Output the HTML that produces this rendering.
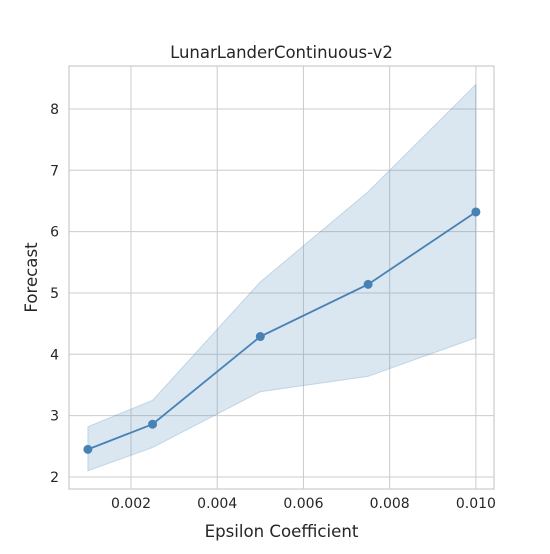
<!DOCTYPE html>
<html><head><meta charset="utf-8"><style>
body{margin:0;background:#fff;font-family:"DejaVu Sans","Liberation Sans",sans-serif}
</style></head><body>
<svg id="chart" width="550" height="550" xmlns="http://www.w3.org/2000/svg" font-family="DejaVu Sans, Liberation Sans, sans-serif"></svg>
<script>
const xValues=[0.001,0.0025,0.005,0.0075,0.01];
const meanValues=[2.45,2.86,4.29,5.14,6.32];
const upperValues=[2.82,3.25,5.18,6.65,8.4];
const lowerValues=[2.1,2.48,3.39,3.64,4.27];
const xTicks=[0.002,0.004,0.006,0.008,0.010];
const xTickLabels=["0.002","0.004","0.006","0.008","0.010"];
const yTicks=[2,3,4,5,6,7,8];
const yTickLabels=["2","3","4","5","6","7","8"];

const L=69,R=494,T=66,B=489;
const xMin=0.000562,xMax=0.01042,yMin=1.804,yMax=8.70;
const sx=v=>L+(v-xMin)/(xMax-xMin)*(R-L);
const sy=v=>B-(v-yMin)/(yMax-yMin)*(B-T);
const svg=document.getElementById('chart');
const NS="http://www.w3.org/2000/svg";
function mk(tag,attrs,name,parent){const e=document.createElementNS(NS,tag);for(const k in attrs)e.setAttribute(k,attrs[k]);


(parent||svg).appendChild(e);return e;}
mk('rect',{x:L,y:T,width:R-L,height:B-T,fill:'#fff'},'plot-area');
xTicks.forEach((t,i)=>{const x=sx(t);
mk('line',{x1:x,x2:x,y1:T,y2:B,stroke:'#cccccc','stroke-width':1},'x-gridline');
const tx=mk('text',{x:x,y:B+19,'text-anchor':'middle','font-size':14,fill:'#262626'},'x-tick-label');tx.textContent=xTickLabels[i];});
yTicks.forEach((t,i)=>{const y=sy(t);
mk('line',{x1:L,x2:R,y1:y,y2:y,stroke:'#cccccc','stroke-width':1},'y-gridline');
const tx=mk('text',{x:L-10,y:y+5,'text-anchor':'end','font-size':14,fill:'#262626'},'y-tick-label');tx.textContent=yTickLabels[i];});
let d='';xValues.forEach((x,i)=>{d+=(i?'L':'M')+sx(x)+','+sy(upperValues[i]);});
for(let i=xValues.length-1;i>=0;i--)d+='L'+sx(xValues[i])+','+sy(lowerValues[i]);
mk('path',{d:d+'Z',fill:'rgba(70,130,180,0.2)',stroke:'rgba(70,130,180,0.25)'},'confidence-band');
let ld='';xValues.forEach((x,i)=>{ld+=(i?'L':'M')+sx(x)+','+sy(meanValues[i]);});
mk('path',{d:ld,fill:'none',stroke:'#4682b4','stroke-width':1.8},'forecast-line');
xValues.forEach((x,i)=>mk('circle',{cx:sx(x),cy:sy(meanValues[i]),r:4.5,fill:'#4682b4'},'forecast-point'));
mk('rect',{x:L,y:T,width:R-L,height:B-T,fill:'none',stroke:'#cccccc','stroke-width':1.25},'plot-border');
const t=mk('text',{x:(L+R)/2,y:58,'text-anchor':'middle','font-size':16.5,fill:'#262626'},'chart-title');t.textContent='LunarLanderContinuous-v2';
const xl=mk('text',{x:(L+R)/2,y:537,'text-anchor':'middle','font-size':16.6,fill:'#262626'},'x-axis-title');xl.textContent='Epsilon Coefficient';
const yl=mk('text',{x:0,y:0,'text-anchor':'middle','font-size':16.6,fill:'#262626',transform:'translate(37,'+((T+B)/2)+') rotate(-90)'},'y-axis-title');yl.textContent='Forecast';
</script>
</body></html>
